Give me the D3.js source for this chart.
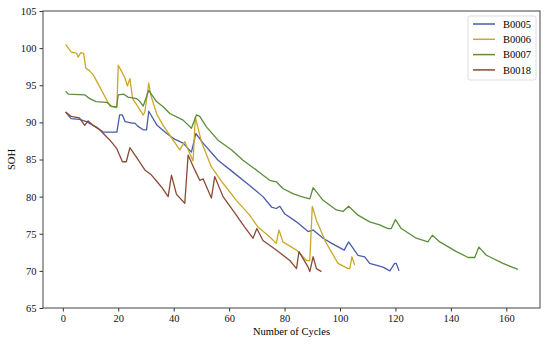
<!DOCTYPE html>
<html>
<head>
<meta charset="utf-8">
<script src="https://cdn.jsdelivr.net/npm/d3@7"></script>
<style>
  body { margin: 0; background: #fff; }
  text { font-family: "Liberation Serif", "Times New Roman", serif; }
</style>
</head>
<body>
<svg width="550" height="344"></svg>
<script>
// cycle / SOH pairs
var b5Cycle = [1, 3, 6, 8.5, 10, 12, 14.5, 19.5, 20.5, 21.5, 22.5, 25, 26, 27, 29, 30.2, 31, 34, 37.5, 40.5, 43.4, 46.4, 48, 50.6, 56, 61.4, 67.4, 72.2, 75.3, 77, 78.3, 80, 84.3, 88.5, 90.3, 93.9, 97, 100.5, 101.5, 103.1, 106.5, 108.9, 110.7, 115.5, 118, 119.7, 120.3, 121.3];
var b5Soh = [91.4, 90.5, 90.4, 90.1, 89.8, 89.4, 88.7, 88.7, 91.0, 91.0, 90.1, 89.9, 89.9, 89.5, 89.0, 89.0, 91.5, 89.6, 88.5, 87.7, 87.2, 86.0, 88.5, 87.2, 84.9, 83.3, 81.5, 80.0, 78.6, 78.4, 78.7, 77.7, 76.6, 75.3, 75.5, 74.4, 73.7, 73.0, 72.8, 73.9, 72.1, 71.9, 71.0, 70.5, 70.0, 71.0, 71.0, 70.0];

var b6Cycle = [1, 3, 5, 5.5, 6.5, 7.5, 8.3, 9.5, 11, 17, 19, 19.5, 20, 21, 22.5, 23.3, 24.2, 25.2, 29, 29.6, 31, 31.7, 34, 36.2, 39.8, 42.2, 44, 45.2, 47, 47.8, 50, 53.6, 57.8, 62.6, 67.4, 70.4, 74.6, 77, 78, 79.4, 84.3, 87.9, 89.1, 90, 91.5, 95.1, 99.3, 102.9, 103.5, 104.3, 105.3];
var b6Soh = [100.5, 99.5, 99.3, 98.8, 99.4, 99.3, 97.3, 97.0, 96.4, 92.2, 92.0, 92.0, 97.7, 97.0, 95.9, 94.9, 95.9, 93.2, 91.0, 91.4, 95.3, 93.7, 91.0, 89.6, 87.6, 86.3, 87.4, 86.3, 84.8, 90.7, 87.4, 84.0, 81.8, 79.5, 77.5, 75.9, 74.6, 73.7, 75.5, 73.9, 72.8, 71.4, 71.4, 78.7, 76.8, 73.7, 71.0, 70.3, 70.3, 71.9, 70.8];

var b7Cycle = [1, 2, 8, 9.7, 12, 15.8, 17.5, 19.4, 20, 22, 23.5, 26.6, 27.8, 29, 31, 33.8, 36.2, 38.6, 43.4, 46.4, 48.2, 49.4, 51.8, 56, 60.8, 65, 69.8, 74.6, 77, 79.4, 83, 86.1, 89.1, 90.3, 93.9, 98.7, 101.1, 103.1, 106.5, 110.7, 114.3, 117.3, 118.5, 120, 122.1, 127.5, 131.7, 133.3, 136, 142, 146.2, 148.6, 150.1, 152.8, 158.8, 164.2];
var b7Soh = [94.2, 93.8, 93.7, 93.2, 92.8, 92.7, 92.2, 92.1, 93.7, 93.8, 93.4, 93.2, 92.8, 92.2, 94.3, 92.8, 92.1, 91.2, 90.3, 89.2, 91.0, 90.8, 89.4, 87.6, 86.3, 84.9, 83.6, 82.2, 82.0, 81.1, 80.4, 80.0, 79.7, 81.2, 79.5, 78.2, 78.0, 78.7, 77.5, 76.6, 76.2, 75.7, 75.7, 76.9, 75.7, 74.4, 73.9, 74.8, 73.9, 72.6, 71.8, 71.8, 73.2, 72.1, 71.0, 70.2];

var b18Cycle = [1, 3, 6, 7.9, 9.1, 10.9, 13.3, 17, 19.4, 21.5, 22.9, 24.2, 26.6, 29.6, 32, 35.6, 38, 39.2, 41, 44, 45.2, 47.6, 49.4, 50.6, 53.6, 54.8, 57.8, 62.6, 65.6, 68.6, 70, 72.2, 77, 81.9, 84.3, 85.2, 88.5, 89.1, 90.3, 91.5, 93.3];
var b18Soh = [91.4, 90.8, 90.6, 89.6, 90.2, 89.6, 89.0, 87.6, 86.5, 84.7, 84.7, 86.6, 85.3, 83.6, 82.9, 81.3, 80.0, 82.9, 80.3, 79.1, 85.6, 83.6, 82.2, 82.4, 79.8, 82.7, 80.0, 77.5, 75.9, 74.4, 75.7, 74.1, 72.8, 71.4, 70.3, 72.6, 70.5, 69.9, 71.9, 70.3, 69.9];

var names = ["B0005", "B0006", "B0007", "B0018"];
var colors = ["#4a5ca8", "#c9a82c", "#5c8d3c", "#8a4a36"];
var xTicks = [0, 20, 40, 60, 80, 100, 120, 140, 160];
var yTicks = [65, 70, 75, 80, 85, 90, 95, 100, 105];

var series = [
    { name: names[0], color: colors[0], x: b5Cycle, y: b5Soh },
    { name: names[1], color: colors[1], x: b6Cycle, y: b6Soh },
    { name: names[2], color: colors[2], x: b7Cycle, y: b7Soh },
    { name: names[3], color: colors[3], x: b18Cycle, y: b18Soh }
];

var svg = d3.select("svg");
var margin = { left: 43, top: 11, right: 10, bottom: 36 };
var width = 550 - margin.left - margin.right,
    height = 344 - margin.top - margin.bottom;

var g = svg.append("g")
    .attr("transform", "translate(" + margin.left + "," + margin.top + ")");

var x = d3.scaleLinear().domain([-7.15, 172.15]).range([0, width]);
var y = d3.scaleLinear().domain([65, 105]).range([height, 0]);

var xAxis = g.append("g")
    .attr("transform", "translate(0," + height + ")")
    .call(d3.axisBottom(x).tickValues(xTicks).tickSize(3.5).tickPadding(3));
var yAxis = g.append("g")
    .call(d3.axisLeft(y).tickValues(yTicks).tickSize(3.5).tickPadding(3));

[xAxis, yAxis].forEach(function (a) {
    a.select(".domain").remove();
    a.selectAll("line").attr("stroke", "#333");
    a.selectAll("text").style("font-size", "10.5px").attr("fill", "#111");
});

var line = d3.line()
    .x(function (d) { return x(d[0]); })
    .y(function (d) { return y(d[1]); });

series.forEach(function (s) {
    var pts = s.x.map(function (c, i) { return [c, s.y[i]]; });
    g.append("path")
        .datum(pts)
        .attr("fill", "none")
        .attr("stroke", s.color)
        .attr("stroke-width", 1.3)
        .attr("stroke-linejoin", "round")
        .attr("d", line);
});

// frame
g.append("rect")
    .attr("width", width)
    .attr("height", height)
    .attr("fill", "none")
    .attr("stroke", "#444")
    .attr("stroke-width", 1);

g.append("text")
    .attr("x", width / 2)
    .attr("y", height + 27)
    .attr("text-anchor", "middle")
    .style("font-size", "10.5px")
    .text("Number of Cycles");

g.append("text")
    .attr("transform", "translate(-28," + (height / 2) + ") rotate(-90)")
    .attr("text-anchor", "middle")
    .style("font-size", "10.5px")
    .text("SOH");

// legend
var legend = g.append("g")
    .attr("transform", "translate(" + (width - 72) + ",5)");
legend.append("rect")
    .attr("width", 68)
    .attr("height", 64)
    .attr("rx", 2)
    .attr("fill", "#fff")
    .attr("stroke", "#ddd");
series.forEach(function (s, i) {
    var row = legend.append("g").attr("transform", "translate(0," + (8 + i * 15.3) + ")");
    row.append("line")
        .attr("x1", 5).attr("x2", 27)
        .attr("stroke", s.color)
        .attr("stroke-width", 1.5);
    row.append("text")
        .attr("x", 35)
        .attr("dy", "0.35em")
        .style("font-size", "10.5px")
        .text(s.name);
});
</script>
</body>
</html>
